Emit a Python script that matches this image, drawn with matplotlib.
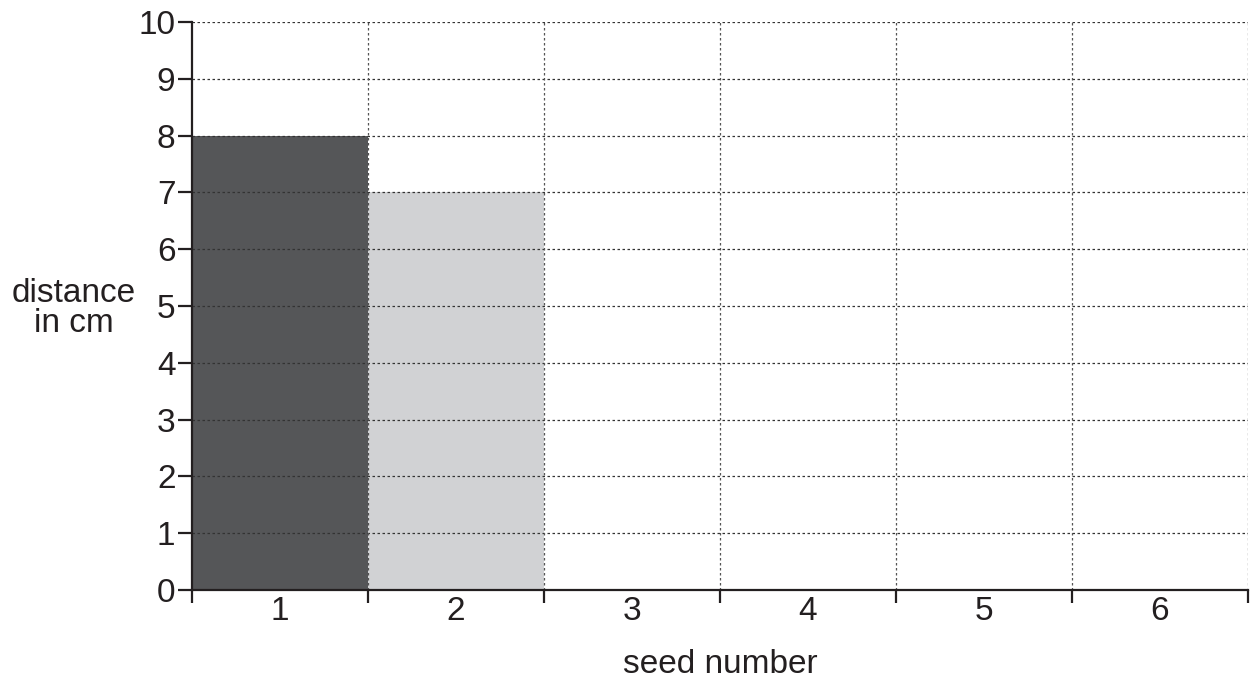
import matplotlib.pyplot as plt
import numpy as np

# seed distances (only the first two seeds were recorded)
seeds = [1, 2, 3, 4, 5, 6]
distance = [8, 7]
bar_colours = ["#555658", "#d1d2d4"]

plt.rcParams['font.family'] = ['Liberation Sans', 'DejaVu Sans']

fig = plt.figure(figsize=(12.52, 6.8), dpi=100)
ax = fig.add_axes([0.1534, 0.1324, 0.8434, 0.8352])

ax.bar(seeds[:len(distance)], distance, width=1.0, color=bar_colours, zorder=1)

ax.set_xlim(0.5, 6.5)
ax.set_ylim(0, 10)

# grid lines
for y in range(1, 11):
    ax.axhline(y, color="#333333", linestyle=(0, (2, 2)), linewidth=0.9, zorder=2)
for x in np.arange(1.5, 7.0, 1.0):
    ax.axvline(x, color="#555555", linestyle=(0, (2, 2)), linewidth=0.9, zorder=2)

ax.spines['top'].set_visible(False)
ax.spines['right'].set_visible(False)
for side in ['left', 'bottom']:
    ax.spines[side].set_linewidth(1.6)
    ax.spines[side].set_color("#231f20")

ax.set_yticks(range(0, 11))
ax.tick_params(axis='y', direction='out', length=10, width=1.6, color="#231f20",
               labelsize=24, pad=2, labelcolor="#231f20")

ax.set_xticks(np.arange(0.5, 7.0, 1.0))
ax.set_xticklabels([])
ax.tick_params(axis='x', which='major', direction='out', length=9, width=1.6, color="#231f20")
ax.set_xticks(seeds, minor=True)
ax.set_xticklabels([str(s) for s in seeds], minor=True)
ax.tick_params(axis='x', which='minor', length=0, labelsize=24, pad=4, labelcolor="#231f20")

ax.set_xlabel("seed number", fontsize=24, labelpad=16, color="#231f20")
fig.text(0.059, 0.546, "distance\nin cm", fontsize=24, ha='center', va='center',
         linespacing=0.98, color="#231f20")

plt.savefig("out.png", dpi=100)
